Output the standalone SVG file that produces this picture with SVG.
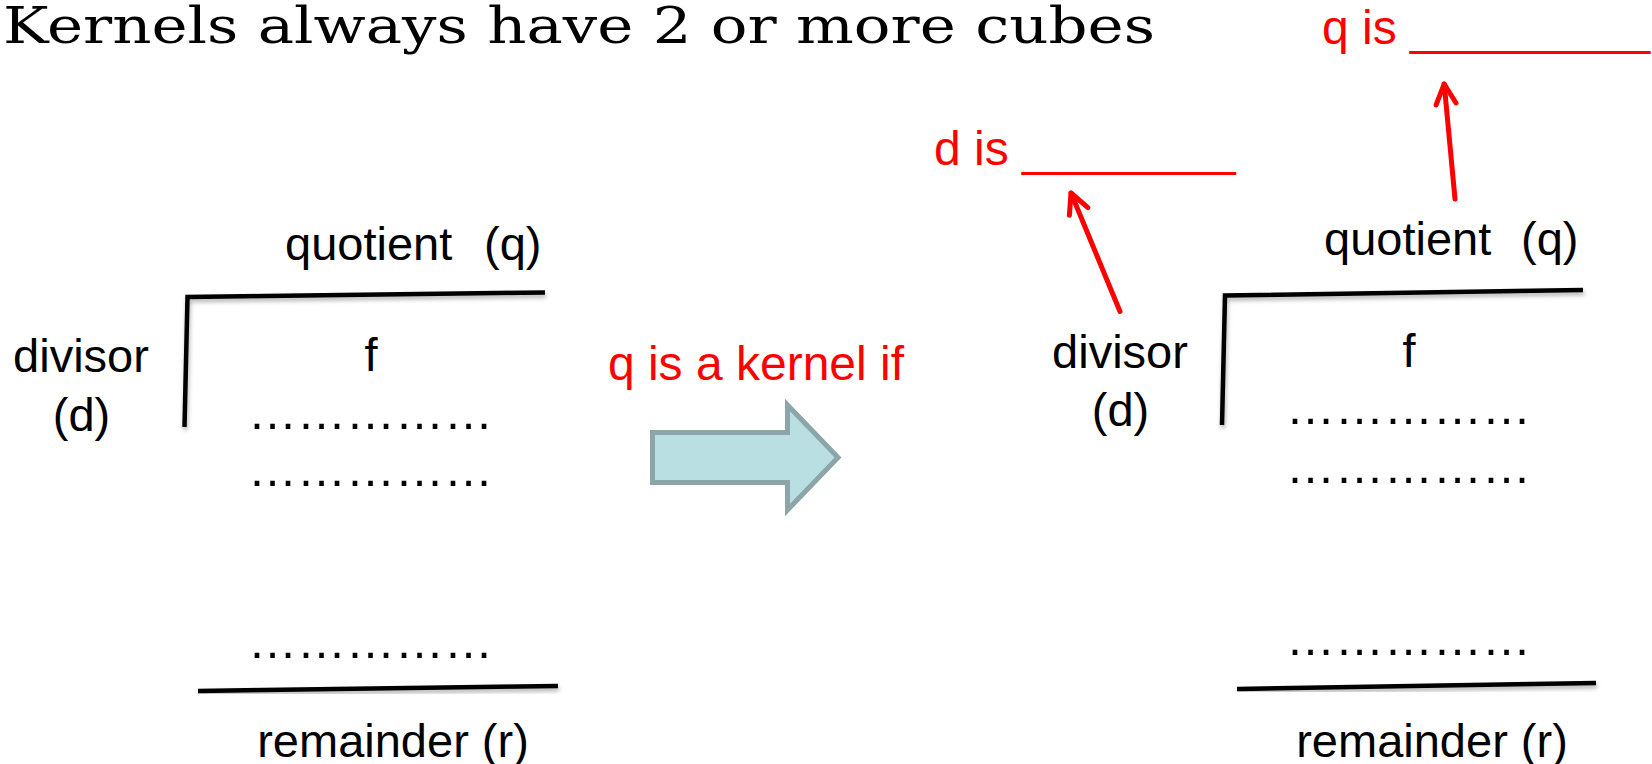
<svg xmlns="http://www.w3.org/2000/svg" width="1652" height="764" viewBox="0 0 1652 764">
<defs>
<style>
.t{font-family:"Liberation Sans",Arial,Helvetica,sans-serif;font-size:47px;fill:#000}
.r{font-family:"Liberation Sans",Arial,Helvetica,sans-serif;font-size:48px;fill:#FF0000}
.dots{font-family:"Liberation Sans",Arial,sans-serif;font-size:49px;fill:#000;text-anchor:middle}
.m{text-anchor:middle}
.br{fill:none;stroke:#000;stroke-width:4.5;stroke-linejoin:miter;filter:url(#sh)}
.ra{fill:none;stroke:#FF0000;stroke-width:5;stroke-linecap:round;marker-end:url(#ah)}
</style>
<filter id="sh" x="-10%" y="-50%" width="120%" height="200%">
<feDropShadow dx="1" dy="3" stdDeviation="2" flood-color="#000" flood-opacity="0.3"/>
</filter>
<marker id="ah" markerUnits="userSpaceOnUse" orient="auto" refX="0" refY="0" markerWidth="40" markerHeight="40" viewBox="-30 -20 40 40" overflow="visible">
<path d="M-20,-10 L0,0 L-20,10" fill="none" stroke="#FF0000" stroke-width="5" stroke-linecap="round" stroke-linejoin="round"/>
</marker>
</defs>
<rect width="1652" height="764" fill="#FFFFFF"/>

<g id="title">
<text x="3" y="43" font-family="'DejaVu Serif','Liberation Serif',serif" font-size="51" textLength="1152" lengthAdjust="spacingAndGlyphs" fill="#000">Kernels always have 2 or more cubes</text>
</g>

<g id="left-division">
<path class="br" d="M184.5,427 L187.5,297 L545,292.5"/>
<path class="br" d="M198,691 L558,686"/>
<text class="t" x="285" y="260" xml:space="preserve">quotient  <tspan x="484">(q)</tspan></text>
<text class="t m" x="81" y="371.5">divisor</text>
<text class="t m" x="81.5" y="431">(d)</text>
<text class="t m" x="371" y="371">f</text>
<text class="dots" x="370.5" y="429">……………</text>
<text class="dots" x="370.5" y="486">……………</text>
<text class="dots" x="370.5" y="657.5">……………</text>
<text class="t m" x="393" y="757">remainder (r)</text>
</g>

<g id="transform-arrow">
<text class="r m" x="756" y="380">q is a kernel if</text>
<polygon points="652.5,432.5 787.5,432.5 787.5,405 838,457.5 787.5,510 787.5,482.5 652.5,482.5" fill="#B9DFE3" stroke="#8BA5A8" stroke-width="5"/>
</g>

<g id="right-division">
<path class="br" d="M1222,425 L1225,295.5 L1583,290"/>
<path class="br" d="M1237,689 L1596,683"/>
<text class="t" x="1324" y="255" xml:space="preserve">quotient  <tspan x="1521">(q)</tspan></text>
<text class="t m" x="1120" y="368">divisor</text>
<text class="t m" x="1120.5" y="426">(d)</text>
<text class="t m" x="1409" y="367">f</text>
<text class="dots" x="1408.5" y="424">……………</text>
<text class="dots" x="1408.5" y="482.5">……………</text>
<text class="dots" x="1408.5" y="655">……………</text>
<text class="t m" x="1432" y="757">remainder (r)</text>
</g>

<g id="d-label">
<text class="r" x="934" y="165">d is ________</text>
</g>
<g id="q-label">
<text class="r" x="1322" y="43.5">q is _________</text>
</g>

<g id="connectors">
<line class="ra" x1="1120" y1="311.5" x2="1071" y2="193"/>
<line class="ra" x1="1455" y1="199" x2="1444.2" y2="84"/>
</g>
</svg>
